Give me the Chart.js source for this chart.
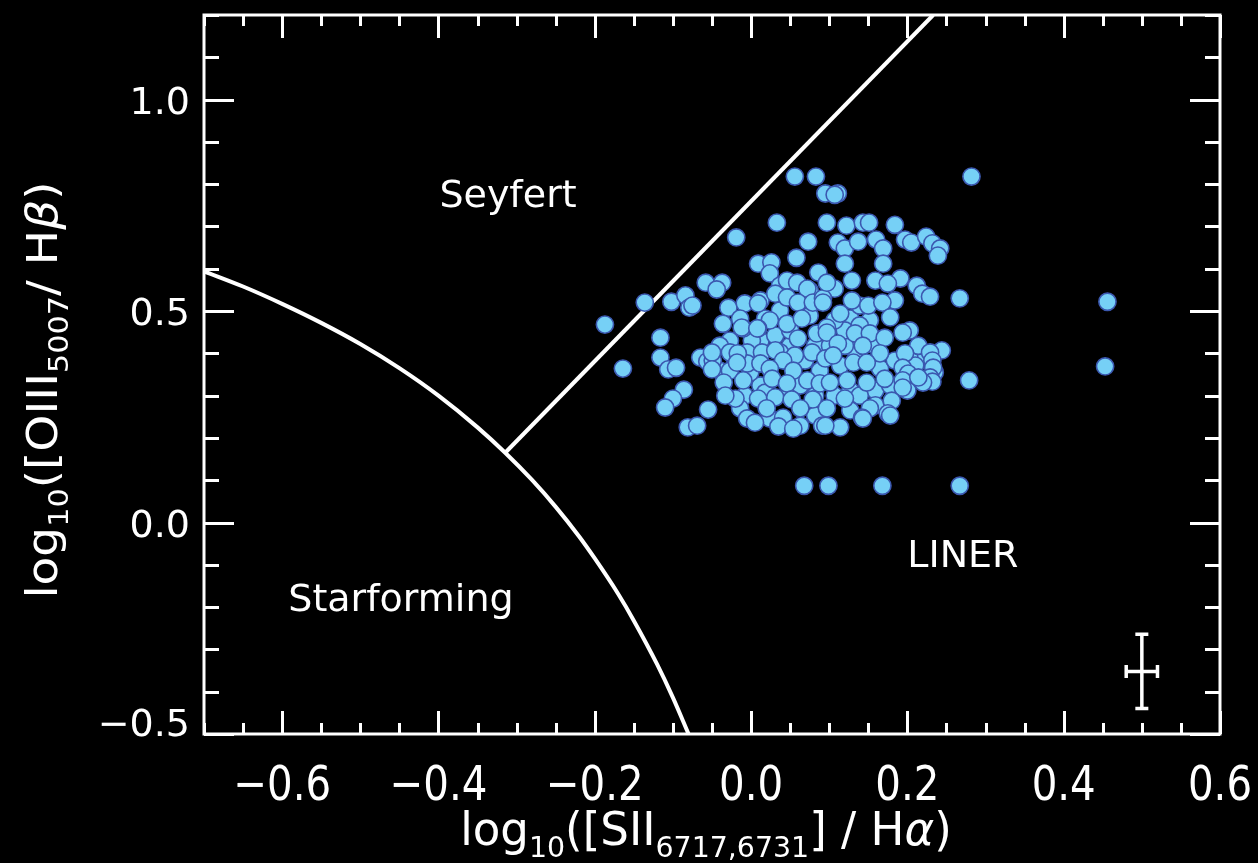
<!DOCTYPE html>
<html>
<head>
<meta charset="utf-8">
<title>BPT diagram</title>
<script src="https://cdn.jsdelivr.net/npm/chart.js@4.4.1/dist/chart.umd.min.js"></script>
<style>
  html, body { margin: 0; padding: 0; background: #000; }
  canvas { display: block; }
</style>
</head>
<body>
<canvas id="bpt" width="1258" height="863"></canvas>
<script>
// log10([SII]/Ha) and log10([OIII]/Hb) for each galaxy
const galX = [
  0.056, 0.083, 0.095, 0.111, 0.107, 0.282, 0.033, 0.097, 0.122, 0.143, 0.151, 0.184,
  -0.019, 0.073, 0.111, 0.120, 0.137, 0.160, 0.169, 0.197, 0.205, 0.224, 0.232, 0.242,
  0.058, 0.120, 0.169, 0.009, 0.026, 0.024, 0.086, -0.058, -0.037, -0.044, 0.191, 0.212,
  0.219, 0.229, 0.267, -0.136, -0.102, -0.084, -0.079, -0.187, 0.456, 0.453, 0.279, 0.068,
  0.099, 0.168, 0.267, -0.116, -0.164, -0.116, -0.106, -0.096, -0.086, -0.100, -0.110, -0.055,
  -0.081, -0.069,
  0.012, 0.031, 0.050, 0.069, 0.088, 0.114, 0.133, 0.152, 0.165, 0.184, 0.127, 0.107,
  0.037, 0.018, 0.075, 0.127, 0.184, 0.012, -0.008, 0.050, 0.082, 0.120, 0.159, -0.040,
  -0.027, 0.001, 0.205, 0.224, 0.197, 0.235,
  -0.027, -0.001, 0.018, 0.037, 0.056, 0.063, 0.082, 0.101, 0.120, 0.139, 0.159, 0.178,
  0.139, 0.159, 0.127, 0.082, 0.024, 0.050, 0.107, 0.139, 0.203, 0.210, -0.014, 0.024,
  0.063, -0.040, 0.012, 0.037, 0.075, 0.107,
  0.046, 0.059, 0.072, 0.031, 0.046, 0.060, 0.079, 0.092, -0.075, -0.029, -0.008, 0.009,
  -0.036, -0.014, -0.010, 0.009, 0.046, 0.065, 0.060, 0.084, 0.097, 0.078, 0.095, -0.065,
  -0.056, -0.049, -0.050, -0.050, -0.023, -0.005, 0.014, 0.031, 0.041, -0.005, 0.012, 0.024,
  0.054, -0.035, -0.010, 0.027, 0.046, 0.072, 0.088, -0.020, 0.009, 0.031, 0.052, 0.079,
  -0.033, 0.020, 0.063, -0.005, 0.041, 0.005, 0.035, 0.054, 0.091, -0.027, -0.017, -0.018,
  -0.012, 0.008, 0.097, 0.129, 0.159, 0.175, 0.239, 0.092, 0.129, 0.150, 0.168, 0.114,
  0.178, 0.133, 0.152, 0.171, 0.194, 0.097, 0.111, 0.143, 0.165, 0.214, 0.244, 0.229,
  0.105, 0.131, 0.148, 0.197, 0.194, 0.201, 0.194, 0.200, 0.232, 0.233, 0.229, 0.232,
  0.220, 0.214, 0.101, 0.123, 0.148, 0.171, 0.194, 0.120, 0.152, 0.180, 0.175, 0.142,
  0.097, 0.114, 0.095, 0.143, 0.178
];
const galY = [
  0.818, 0.818, 0.778, 0.778, 0.775, 0.818, 0.709, 0.709, 0.702, 0.709, 0.709, 0.704,
  0.674, 0.664, 0.662, 0.648, 0.664, 0.669, 0.648, 0.669, 0.662, 0.676, 0.660, 0.648,
  0.626, 0.612, 0.612, 0.612, 0.615, 0.589, 0.591, 0.567, 0.567, 0.551, 0.577, 0.560,
  0.541, 0.534, 0.530, 0.520, 0.522, 0.537, 0.508, 0.468, 0.522, 0.369, 0.336, 0.087,
  0.087, 0.087, 0.087, 0.437, 0.364, 0.390, 0.362, 0.366, 0.314, 0.293, 0.272, 0.267,
  0.225, 0.229,
  0.430, 0.442, 0.418, 0.383, 0.359, 0.371, 0.407, 0.478, 0.364, 0.383, 0.312, 0.300,
  0.501, 0.482, 0.489, 0.482, 0.525, 0.324, 0.300, 0.312, 0.418, 0.418, 0.312, 0.359,
  0.430, 0.430, 0.383, 0.395, 0.343, 0.355,
  0.359, 0.355, 0.307, 0.402, 0.395, 0.324, 0.300, 0.418, 0.454, 0.466, 0.418, 0.324,
  0.300, 0.277, 0.265, 0.253, 0.478, 0.454, 0.478, 0.513, 0.454, 0.371, 0.270, 0.246,
  0.229, 0.418, 0.525, 0.560, 0.548, 0.553,
  0.572, 0.567, 0.553, 0.541, 0.532, 0.520, 0.520, 0.530, 0.513, 0.508, 0.518, 0.518,
  0.470, 0.482, 0.459, 0.459, 0.470, 0.482, 0.435, 0.447, 0.461, 0.402, 0.388, 0.390,
  0.381, 0.383, 0.402, 0.362, 0.395, 0.402, 0.402, 0.407, 0.383, 0.376, 0.376, 0.364,
  0.359, 0.331, 0.336, 0.340, 0.329, 0.336, 0.329, 0.293, 0.293, 0.296, 0.291, 0.291,
  0.300, 0.270, 0.270, 0.246, 0.248, 0.236, 0.227, 0.222, 0.229, 0.402, 0.400, 0.378,
  0.461, 0.459, 0.567, 0.572, 0.572, 0.565, 0.631, 0.520, 0.525, 0.513, 0.520, 0.494,
  0.485, 0.447, 0.447, 0.437, 0.449, 0.449, 0.423, 0.418, 0.400, 0.418, 0.407, 0.402,
  0.395, 0.378, 0.378, 0.400, 0.366, 0.352, 0.336, 0.312, 0.383, 0.366, 0.343, 0.333,
  0.331, 0.343, 0.331, 0.336, 0.331, 0.340, 0.319, 0.293, 0.270, 0.288, 0.258, 0.248,
  0.270, 0.225, 0.229, 0.246, 0.253
];

// Kewley et al. star-forming boundary, sampled
const sfCurveX = [-0.70, -0.65, -0.60, -0.55, -0.50, -0.45, -0.40, -0.35, -0.3146, -0.28, -0.25, -0.22, -0.20, -0.17, -0.15, -0.12, -0.10, -0.08];
const sfCurveY = [0.594, 0.558, 0.517, 0.472, 0.422, 0.365, 0.300, 0.225, 0.165, 0.100, 0.037, -0.033, -0.085, -0.169, -0.232, -0.336, -0.414, -0.500];

// Seyfert / LINER dividing line
const syLinerX = [-0.3146, 0.233];
const syLinerY = [0.165, 1.20];

const xTicks = [-0.6, -0.4, -0.2, 0.0, 0.2, 0.4, 0.6];
const yTicks = [-0.5, 0.0, 0.5, 1.0];

const regionNames = ['Seyfert', 'Starforming', 'LINER'];
const regionX = [-0.311, -0.448, 0.271];
const regionY = [0.778, -0.177, -0.073];

// typical error bar: centre and half sizes
const errCentre = [0.50, -0.352];
const errHalf = [0.020, 0.088];

const FONT = "'DejaVu Sans', sans-serif";

function fmt(v) {
  const s = Math.abs(v).toFixed(1);
  return v < 0 ? '\u2212' + s : s;
}

function fontOf(base, r) {
  const size = r.sub ? Math.round(base * 0.64) : base;
  return (r.it ? 'italic ' : '') + size + 'px ' + FONT;
}

// draw text runs with subscripts, centred on (0, 0)
function drawRuns(ctx, runs, base) {
  const widths = runs.map(r => { ctx.font = fontOf(base, r); return ctx.measureText(r.t).width; });
  let cx = -widths.reduce((a, b) => a + b, 0) / 2;
  runs.forEach((r, i) => {
    ctx.font = fontOf(base, r);
    ctx.fillText(r.t, cx, r.sub ? base * 0.26 : 0);
    cx += widths[i];
  });
}

const axesDecor = {
  id: 'axesDecor',
  beforeDraw(chart) {
    const ctx = chart.ctx;
    ctx.save();
    ctx.fillStyle = '#000';
    ctx.fillRect(0, 0, chart.width, chart.height);
    ctx.restore();
  },
  afterDraw(chart) {
    const { ctx, chartArea: a, scales: { x, y } } = chart;
    ctx.save();
    ctx.strokeStyle = '#fff';
    ctx.fillStyle = '#fff';
    ctx.lineWidth = 3;
    ctx.lineCap = 'butt';

    // frame
    ctx.strokeRect(a.left, a.top, a.right - a.left, a.bottom - a.top);

    // inward ticks on all four sides
    ctx.beginPath();
    for (let i = -14; i <= 12; i++) {
      const px = Math.round(x.getPixelForValue(i * 0.05)) + 0.5;
      const len = i % 4 === 0 ? 23 : 11;
      ctx.moveTo(px, a.bottom); ctx.lineTo(px, a.bottom - len);
      ctx.moveTo(px, a.top); ctx.lineTo(px, a.top + len);
    }
    for (let i = -5; i <= 12; i++) {
      const py = Math.round(y.getPixelForValue(i * 0.1)) + 0.5;
      const len = i % 5 === 0 ? 30 : 15;
      ctx.moveTo(a.left, py); ctx.lineTo(a.left + len, py);
      ctx.moveTo(a.right, py); ctx.lineTo(a.right - len, py);
    }
    ctx.stroke();

    // tick labels
    ctx.textBaseline = 'alphabetic';
    ctx.textAlign = 'center';
    ctx.font = '48px ' + FONT;
    xTicks.forEach(v => {
      ctx.save();
      ctx.translate(x.getPixelForValue(v), 800);
      ctx.scale(0.84, 1);
      ctx.fillText(fmt(v), 0, 0);
      ctx.restore();
    });
    ctx.textAlign = 'right';
    ctx.font = '38px ' + FONT;
    yTicks.forEach(v => {
      // the bottom label is kept clear of the x labels
      const base = Math.min(y.getPixelForValue(v) + 14, a.bottom + 2);
      ctx.fillText(fmt(v), 190, base);
    });

    // region names
    ctx.textAlign = 'center';
    ctx.font = '38px ' + FONT;
    regionNames.forEach((n, i) => {
      ctx.fillText(n, x.getPixelForValue(regionX[i]), y.getPixelForValue(regionY[i]) + 14);
    });

    // axis titles
    ctx.textAlign = 'left';
    ctx.save();
    ctx.translate(706, 845);
    ctx.scale(0.98, 1);
    drawRuns(ctx, [
      { t: 'log' }, { t: '10', sub: true }, { t: '([SII' }, { t: '6717,6731', sub: true },
      { t: '] / H' }, { t: '\u03b1', it: true }, { t: ')' }
    ], 46);
    ctx.restore();

    ctx.save();
    ctx.translate(57, 390);
    ctx.rotate(-Math.PI / 2);
    ctx.scale(1.12, 1);
    drawRuns(ctx, [
      { t: 'log' }, { t: '10', sub: true }, { t: '([OIII' }, { t: '5007', sub: true },
      { t: '/ H' }, { t: '\u03b2', it: true }, { t: ')' }
    ], 42);
    ctx.restore();

    // typical uncertainty cross
    const ex = x.getPixelForValue(errCentre[0]);
    const ey = y.getPixelForValue(errCentre[1]);
    const x0 = x.getPixelForValue(errCentre[0] - errHalf[0]);
    const x1 = x.getPixelForValue(errCentre[0] + errHalf[0]);
    const y0 = y.getPixelForValue(errCentre[1] + errHalf[1]);
    const y1 = y.getPixelForValue(errCentre[1] - errHalf[1]);
    const cap = 6.5;
    ctx.lineWidth = 3.5;
    ctx.beginPath();
    ctx.moveTo(x0, ey); ctx.lineTo(x1, ey);
    ctx.moveTo(ex, y0); ctx.lineTo(ex, y1);
    ctx.moveTo(x0, ey - cap); ctx.lineTo(x0, ey + cap);
    ctx.moveTo(x1, ey - cap); ctx.lineTo(x1, ey + cap);
    ctx.moveTo(ex - cap, y0); ctx.lineTo(ex + cap, y0);
    ctx.moveTo(ex - cap, y1); ctx.lineTo(ex + cap, y1);
    ctx.stroke();

    ctx.restore();
  }
};

new Chart(document.getElementById('bpt'), {
  type: 'scatter',
  data: {
    datasets: [
      {
        label: 'galaxies',
        data: galX.map((v, i) => ({ x: v, y: galY[i] })),
        backgroundColor: '#76d0f6',
        borderColor: '#3b58b0',
        borderWidth: 1.6,
        pointRadius: 8.6,
        order: 0
      },
      {
        label: 'starforming limit',
        data: sfCurveX.map((v, i) => ({ x: v, y: sfCurveY[i] })),
        showLine: true,
        borderColor: '#fff',
        borderWidth: 4,
        pointRadius: 0,
        cubicInterpolationMode: 'monotone',
        order: 1
      },
      {
        label: 'Seyfert/LINER',
        data: syLinerX.map((v, i) => ({ x: v, y: syLinerY[i] })),
        showLine: true,
        borderColor: '#fff',
        borderWidth: 4,
        pointRadius: 0,
        order: 2
      }
    ]
  },
  options: {
    responsive: false,
    animation: false,
    layout: { padding: { left: 204, right: 38, top: 15, bottom: 129 } },
    plugins: { legend: { display: false }, tooltip: { enabled: false } },
    scales: {
      x: { type: 'linear', min: -0.7, max: 0.6, display: false },
      y: { type: 'linear', min: -0.5, max: 1.2, display: false }
    }
  },
  plugins: [axesDecor]
});
</script>
</body>
</html>
